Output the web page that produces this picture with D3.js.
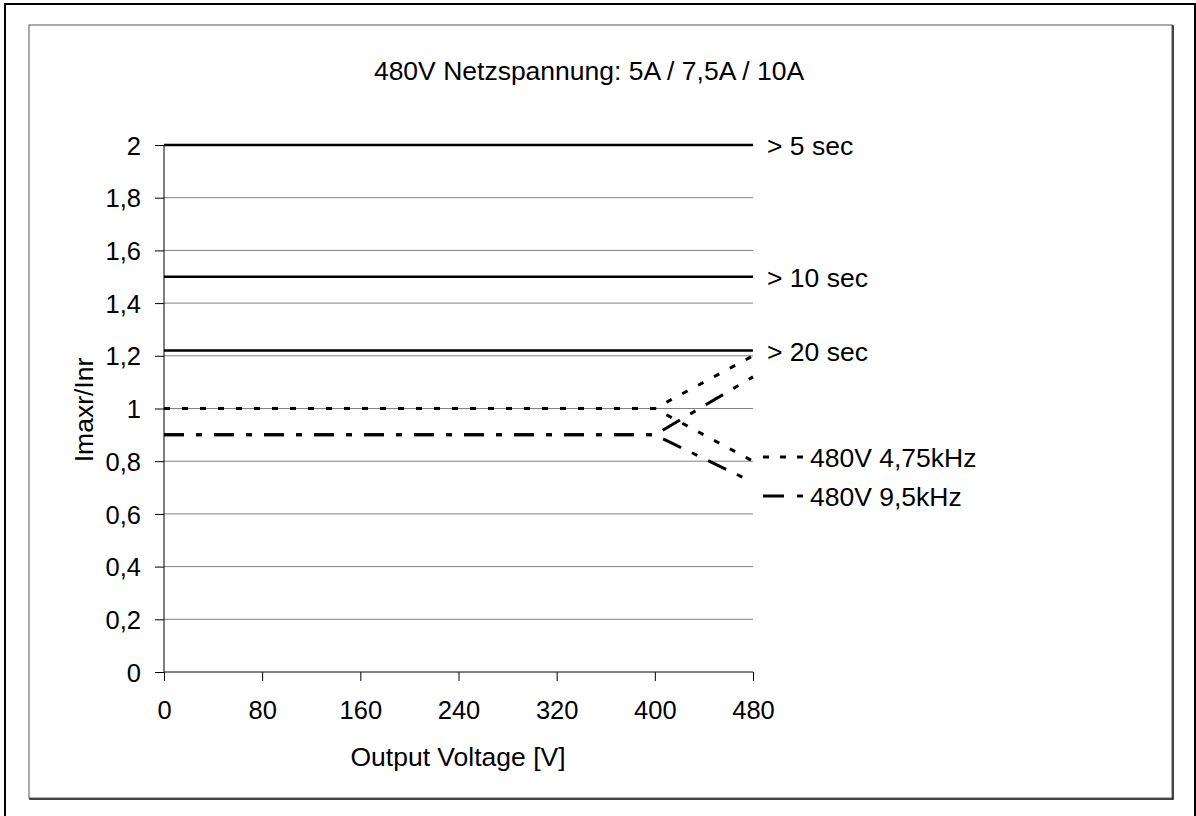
<!DOCTYPE html>
<html><head><meta charset="utf-8">
<script src="https://cdn.jsdelivr.net/npm/d3@7"></script>
<style>body{margin:0;background:#fff}svg{display:block;font-family:"Liberation Sans",Arial,sans-serif}</style>
</head><body><svg id="c" width="1196" height="816"></svg>
<script>
const title = "480V Netzspannung: 5A / 7,5A / 10A";
const xTicks = [0, 80, 160, 240, 320, 400, 480];
const yTicks = [0, 0.2, 0.4, 0.6, 0.8, 1, 1.2, 1.4, 1.6, 1.8, 2];
const limitNames = ["> 5 sec", "> 10 sec", "> 20 sec"];
const limitValues = [2, 1.5, 1.22];
const seriesNames = ["480V 4,75kHz", "480V 9,5kHz"];
const seriesX = [0, 400, 480];
const upperValues = [[1, 1, 1.2], [0.9, 0.9, 1.12]];
const lowerValues = [[1, 1, 0.8], [0.9, 0.9, 0.72]];
const dashes = ["6,12", "20,12,6,12"];
const FS = 25.5;
const FT = 26.5;
const FF = "Liberation Sans, Arial, sans-serif";

const svg = d3.select("#c");
svg.append("rect").attr("x",5).attr("y",4).attr("width",1190).attr("height",830).attr("fill","none").attr("stroke","#000").attr("stroke-width",2);
svg.append("rect").attr("x",30).attr("y",26).attr("width",1143).attr("height",773).attr("fill","none").attr("stroke","#000").attr("stroke-width",1.5);
svg.append("rect").attr("x",29).attr("y",25).attr("width",1143).attr("height",773).attr("fill","#fff").attr("stroke","#555").attr("stroke-width",1);

const x = d3.scaleLinear().domain([0,480]).range([164,753]);
const y = d3.scaleLinear().domain([0,2]).range([672,145]);

// grid
svg.append("g").selectAll("line").data(yTicks.filter(d=>d>0)).join("line")
  .attr("x1",x(0)).attr("x2",x(480)).attr("y1",d=>y(d)).attr("y2",d=>y(d))
  .attr("stroke","#808080").attr("stroke-width",1);

const fmt = d => String(d).replace(".", ",");
const ya = svg.append("g").attr("transform",`translate(${x(0)},0)`)
  .call(d3.axisLeft(y).tickValues(yTicks).tickFormat(fmt).tickSize(9).tickPadding(14));
const xa = svg.append("g").attr("transform",`translate(0,${y(0)})`)
  .call(d3.axisBottom(x).tickValues(xTicks).tickSize(9).tickPadding(20));
[ya,xa].forEach(a=>{a.attr("font-size",FS).attr("font-family",FF);
  a.select(".domain").attr("stroke","#000");a.selectAll("line").attr("stroke","#000");
  a.selectAll("text").attr("fill","#000");});
ya.selectAll("text").attr("dy","0.36em");
xa.selectAll("text").attr("dy","0.72em");
xa.select(".domain").attr("d",`M${x(0)},0H${x(480)}`);
ya.select(".domain").attr("d",`M0,${y(2)}V${y(0)}`);

// limit lines
limitValues.forEach((v,i)=>{
  svg.append("line").attr("x1",x(0)).attr("x2",x(480)).attr("y1",y(v)).attr("y2",y(v)).attr("stroke","#000").attr("stroke-width",2.5);
  svg.append("text").attr("x",x(480)+14).attr("y",y(v)+10).attr("font-size",FT).text(limitNames[i]);
});

const line = d3.line().x((d,i)=>x(seriesX[i])).y(d=>y(d));
[upperValues, lowerValues].forEach(set=>{
  set.forEach((vals,k)=>{
    svg.append("path").attr("d",line(vals)).attr("fill","none").attr("stroke","#000")
      .attr("stroke-width",3).attr("stroke-dasharray",dashes[k]);
  });
});

// legend
const legY = [457, 496];
seriesNames.forEach((n,k)=>{
  svg.append("line").attr("x1",763).attr("x2",804).attr("y1",legY[k]).attr("y2",legY[k])
    .attr("stroke","#000").attr("stroke-width",3).attr("stroke-dasharray", k===0?"6,11":"21,13,6,12");
  svg.append("text").attr("x",810).attr("y",legY[k]+10).attr("font-size",FT).text(n);
});

svg.append("text").attr("x",589).attr("y",80).attr("text-anchor","middle").attr("font-size",FT).text(title);
svg.append("text").attr("x",458).attr("y",766).attr("text-anchor","middle").attr("font-size",FT).text("Output Voltage [V]");
svg.append("text").attr("transform","translate(93,410) rotate(-90)").attr("text-anchor","middle").attr("font-size",FT).text("Imaxr/Inr");
</script></body></html>
